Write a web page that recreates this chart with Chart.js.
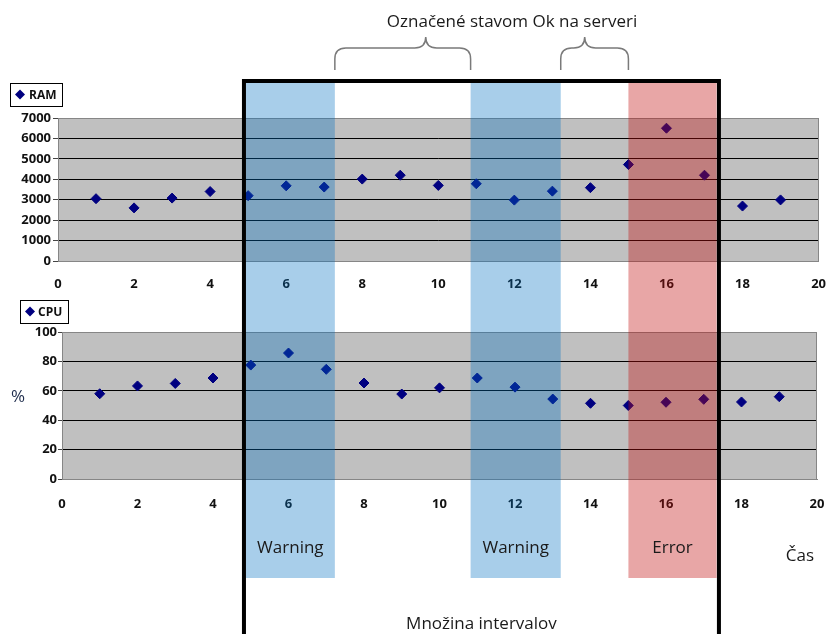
<!DOCTYPE html>
<html>
<head>
<meta charset="utf-8">
<script src="https://cdn.jsdelivr.net/npm/chart.js@4"></script>
<style>
  html, body { margin: 0; padding: 0; background: #ffffff; }
  #wrap { position: relative; width: 827px; height: 634px; overflow: hidden; }
  #wrap canvas { position: absolute; left: 0; top: 0; }
</style>
</head>
<body>
<div id="wrap">
  <canvas id="ramCanvas" width="827" height="634"></canvas>
  <canvas id="cpuCanvas" width="827" height="634"></canvas>
</div>
<script>
// ---- data -------------------------------------------------------------
const timeSteps = [1, 2, 3, 4, 5, 6, 7, 8, 9, 10, 11, 12, 13, 14, 15, 16, 17, 18, 19];
const ramValues = [3050, 2600, 3080, 3400, 3200, 3680, 3620, 4010, 4200, 3700,
                   3780, 2980, 3420, 3590, 4720, 6500, 4200, 2690, 2990];
const cpuValues = [58, 63.3, 65, 68.7, 77.5, 85.7, 74.6, 65.3, 57.8, 62,
                   68.7, 62.5, 54.4, 51.5, 50, 52.2, 54.2, 52.4, 56];

const xTickValues   = [0, 2, 4, 6, 8, 10, 12, 14, 16, 18, 20];
const ramTickValues = [0, 1000, 2000, 3000, 4000, 5000, 6000, 7000];
const cpuTickValues = [0, 20, 40, 60, 80, 100];

// highlighted intervals along the time axis
const intervalLabels = ['Warning', 'Warning', 'Error'];
const intervalKinds  = ['warning', 'warning', 'error'];
const intervalStart  = [4.94, 10.85, 15.0];
const intervalEnd    = [7.28, 13.22, 17.32];

// stretches the server reported as OK (braces)
const okStart = [7.28, 13.22];
const okEnd   = [10.85, 15.0];
const okTip   = [9.67, 13.85];

// whole set of intervals (frame)
const setStart = 4.89;
const setEnd   = 17.38;

const texts = {
  ok: 'Označené stavom Ok na serveri',
  set: 'Množina intervalov',
  time: 'Čas',
  percent: '%'
};

// ---- styling ----------------------------------------------------------
Chart.defaults.font.family = '"Open Sans", sans-serif';
const tickFont = { family: '"Open Sans", sans-serif', size: 13, weight: 'bold' };
const markerColor = '#000080';
const frameGray = '#868686';

const plotFrame = {
  id: 'plotFrame',
  beforeDraw(chart) {
    const { ctx, chartArea: a } = chart;
    ctx.save();
    ctx.fillStyle = '#c0c0c0';
    ctx.fillRect(a.left, a.top, a.right - a.left, a.bottom - a.top);
    ctx.restore();
  },
  beforeDatasetsDraw(chart) {
    const { ctx, chartArea: a } = chart;
    ctx.save();
    ctx.strokeStyle = frameGray;
    ctx.lineWidth = 1;
    ctx.strokeRect(Math.round(a.left) + 0.5, Math.round(a.top) + 0.5,
                   Math.round(a.right - a.left) - 1, Math.round(a.bottom - a.top));
    ctx.restore();
  }
};

// small boxed key in the corner of each panel
const seriesKey = {
  id: 'seriesKey',
  afterDraw(chart, args, opts) {
    const { ctx } = chart;
    const ds = chart.data.datasets[0];
    const [x, y, w, h] = opts.box;
    ctx.save();
    ctx.fillStyle = '#ffffff';
    ctx.fillRect(x, y, w, h);
    ctx.strokeStyle = '#000000';
    ctx.lineWidth = 1;
    ctx.strokeRect(x + 0.5, y + 0.5, w, h);
    const cx = x + opts.markerX, cy = y + h / 2;
    ctx.fillStyle = ds.backgroundColor;
    ctx.beginPath();
    ctx.moveTo(cx - 5, cy); ctx.lineTo(cx, cy - 5); ctx.lineTo(cx + 5, cy); ctx.lineTo(cx, cy + 5);
    ctx.closePath();
    ctx.fill();
    ctx.fillStyle = '#111111';
    ctx.font = 'bold 12px "Open Sans", sans-serif';
    ctx.textBaseline = 'middle';
    ctx.textAlign = 'left';
    ctx.fillText(ds.label, x + opts.textX, cy + 1);
    ctx.restore();
  }
};

function yGridColor(max) {
  return (c) => (c.tick && (c.tick.value === max || c.tick.value === 0)) ? frameGray : '#000000';
}

function panelOptions(p) {
  return {
    responsive: false,
    animation: false,
    events: [],
    layout: { padding: p.padding },
    plugins: {
      legend: { display: false },
      tooltip: { enabled: false },
      seriesKey: p.key
    },
    scales: {
      x: {
        type: 'linear', min: 0, max: 20,
        afterBuildTicks: (s) => { s.ticks = xTickValues.map(v => ({ value: v })); },
        afterFit: (s) => { s.height = 30; },
        // tick marks are hidden; their length only spaces the labels off the axis
        grid: { display: false, drawTicks: true, tickLength: p.xGap },
        border: { display: true, color: frameGray },
        ticks: { padding: 1, font: tickFont, color: '#111111', maxRotation: 0, autoSkip: false,
                 callback: (v) => String(v) }
      },
      y: {
        type: 'linear', min: p.yTicks[0], max: p.yTicks[p.yTicks.length - 1],
        afterBuildTicks: (s) => { s.ticks = p.yTicks.map(v => ({ value: v })); },
        afterFit: (s) => { s.width = p.yWidth; },
        grid: { color: yGridColor(p.yTicks[p.yTicks.length - 1]), lineWidth: 1,
                drawTicks: true, tickLength: p.tickLen, tickColor: '#444444' },
        border: { display: true, color: frameGray },
        ticks: { padding: p.yPad, font: tickFont, color: '#111111', autoSkip: false,
                 callback: (v) => String(v) }
      }
    }
  };
}

function seriesData(values) {
  return timeSteps.map((t, i) => ({ x: t, y: values[i] }));
}

function markerDataset(label, values) {
  return {
    label,
    data: seriesData(values),
    pointStyle: 'rectRot',
    pointRadius: 5,
    borderWidth: 1,
    backgroundColor: markerColor,
    borderColor: markerColor,
    showLine: false
  };
}

// ---- RAM panel --------------------------------------------------------
const ramChart = new Chart(document.getElementById('ramCanvas'), {
  type: 'scatter',
  data: { datasets: [markerDataset('RAM', ramValues)] },
  options: panelOptions({
    padding: { left: 0, top: 118, right: 8, bottom: 634 - 261 - 30 },
    yTicks: ramTickValues, yWidth: 58, tickLen: 5, yPad: 2, xGap: 14,
    key: { box: [10, 83, 52, 23], markerX: 10, textX: 19 }
  }),
  plugins: [plotFrame, seriesKey]
});

// ---- annotations spanning both panels ---------------------------------
const intervalOverlay = {
  id: 'intervalOverlay',
  afterDraw(chart) {
    const { ctx } = chart;
    const xs = ramChart.scales.x;
    const px = (v) => xs.getPixelForValue(v);
    const bandTop = 81, bandBottom = 578;
    ctx.save();

    // interval bands
    intervalStart.forEach((s, i) => {
      ctx.fillStyle = intervalKinds[i] === 'error'
        ? 'rgba(193, 14, 14, 0.37)'
        : 'rgba(0, 111, 193, 0.34)';
      ctx.fillRect(px(s), bandTop, px(intervalEnd[i]) - px(s), bandBottom - bandTop);
    });

    // labels under the bands
    ctx.fillStyle = '#1a1a1a';
    ctx.font = '17px "Open Sans", sans-serif';
    ctx.textAlign = 'center';
    ctx.textBaseline = 'middle';
    intervalStart.forEach((s, i) => {
      ctx.fillText(intervalLabels[i], (px(s) + px(intervalEnd[i])) / 2, 548);
    });
    ctx.fillText(texts.time, 800, 556);
    ctx.fillText(texts.set, (px(setStart) + px(setEnd)) / 2, 624);
    ctx.fillText(texts.ok, 512, 22);

    ctx.fillStyle = '#1f2d4d';
    ctx.fillText(texts.percent, 18, 397);

    // frame around the whole set of intervals
    ctx.strokeStyle = '#000000';
    ctx.lineWidth = 4;
    ctx.beginPath();
    ctx.moveTo(px(setStart), 700);
    ctx.lineTo(px(setStart), 81);
    ctx.lineTo(px(setEnd), 81);
    ctx.lineTo(px(setEnd), 700);
    ctx.stroke();

    // braces above the OK stretches
    ctx.strokeStyle = '#7a7a7a';
    ctx.lineWidth = 1.5;
    okStart.forEach((s, i) => {
      const x0 = px(s), x1 = px(okEnd[i]), xt = px(okTip[i]);
      const yEnd = 70, yMid = 48, yTip = 37, r = 11;
      ctx.beginPath();
      ctx.moveTo(x0, yEnd);
      ctx.lineTo(x0, yMid + r);
      ctx.quadraticCurveTo(x0, yMid, x0 + r, yMid);
      ctx.lineTo(xt - r, yMid);
      ctx.quadraticCurveTo(xt, yMid, xt, yTip);
      ctx.quadraticCurveTo(xt, yMid, xt + r, yMid);
      ctx.lineTo(x1 - r, yMid);
      ctx.quadraticCurveTo(x1, yMid, x1, yMid + r);
      ctx.lineTo(x1, yEnd);
      ctx.stroke();
    });

    ctx.restore();
  }
};

// ---- CPU panel --------------------------------------------------------
const cpuChart = new Chart(document.getElementById('cpuCanvas'), {
  type: 'scatter',
  data: { datasets: [markerDataset('CPU', cpuValues)] },
  options: panelOptions({
    padding: { left: 0, top: 332, right: 10, bottom: 634 - 479 - 30 },
    yTicks: cpuTickValues, yWidth: 62, tickLen: 4, yPad: 1, xGap: 16,
    key: { box: [20, 300, 48, 23], markerX: 10, textX: 18 }
  }),
  plugins: [plotFrame, seriesKey, intervalOverlay]
});
</script>
</body>
</html>
